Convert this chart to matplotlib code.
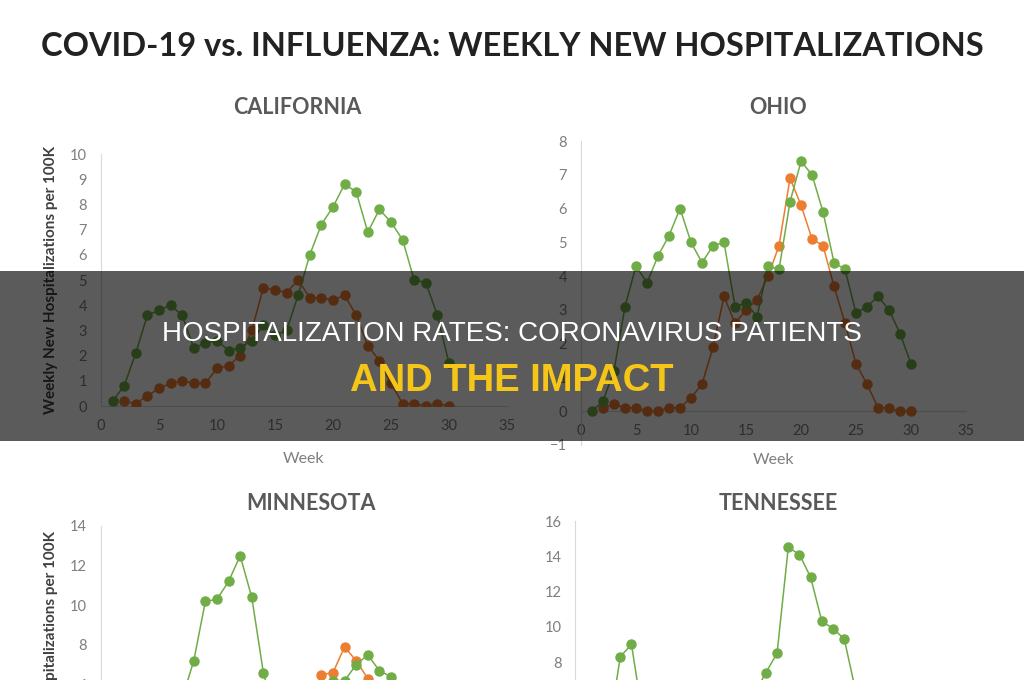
import matplotlib
matplotlib.use("Agg")
import matplotlib.pyplot as plt
from matplotlib.patches import Rectangle

# ---- data (weekly new hospitalizations per 100K) ----
ca_green_weeks = list(range(1, 31))
ca_green = [0.2, 0.8, 2.1, 3.6, 3.8, 4.0, 3.6, 2.3, 2.5, 2.6, 2.2, 2.3, 2.6, 3.2, 2.8,
            3.0, 4.4, 6.0, 7.2, 7.9, 8.8, 8.5, 6.9, 7.8, 7.3, 6.6, 5.0, 4.9, 3.6, 1.7]
ca_orange_weeks = list(range(2, 31))
ca_orange = [0.2, 0.1, 0.4, 0.7, 0.9, 1.0, 0.9, 0.9, 1.5, 1.6, 2.0, 3.0, 4.7, 4.6,
             4.5, 5.0, 4.3, 4.3, 4.2, 4.4, 3.6, 2.4, 1.8, 0.9, 0.1, 0.1, 0.0, 0.1, 0.0]

oh_green_weeks = list(range(1, 31))
oh_green = [0.0, 0.3, 1.2, 3.1, 4.3, 3.8, 4.6, 5.2, 6.0, 5.0, 4.4, 4.9, 5.0, 3.1, 3.2,
            2.8, 4.3, 4.2, 6.2, 7.4, 7.0, 5.9, 4.4, 4.2, 2.9, 3.1, 3.4, 3.0, 2.3, 1.4]
oh_orange_weeks = list(range(2, 31))
oh_orange = [0.1, 0.2, 0.1, 0.1, 0.0, 0.0, 0.1, 0.1, 0.4, 0.8, 1.9, 3.4, 2.6, 3.0,
             3.3, 4.0, 4.9, 6.9, 6.1, 5.1, 4.9, 3.7, 2.6, 1.4, 0.8, 0.1, 0.1, 0.0, 0.0]

mn_green_weeks = list(range(1, 31))
mn_green = [0.3, 0.6, 1.0, 1.6, 2.4, 3.6, 5.3, 7.2, 10.2, 10.3, 11.2, 12.5, 10.4, 6.6, 4.5,
            3.8, 4.0, 4.6, 5.5, 6.2, 6.2, 7.0, 7.5, 6.7, 6.4, 5.5, 4.2, 3.0, 2.0, 1.2]
mn_orange_weeks = list(range(2, 31))
mn_orange = [0.1, 0.1, 0.2, 0.2, 0.3, 0.4, 0.5, 0.7, 0.9, 1.2, 1.6, 2.2, 2.8, 3.4,
             4.0, 4.6, 5.0, 6.5, 6.6, 7.9, 7.2, 6.3, 5.5, 3.8, 2.2, 0.9, 0.3, 0.1, 0.0]

tn_green_weeks = list(range(1, 31))
tn_green = [0.4, 1.5, 4.2, 8.3, 9.0, 4.9, 4.1, 4.3, 4.0, 3.6, 3.3, 3.0, 3.2, 3.9, 4.8,
            6.2, 7.4, 8.5, 14.5, 14.1, 12.8, 10.3, 9.9, 9.3, 6.4, 5.1, 4.2, 3.0, 2.1, 1.2]
tn_orange_weeks = list(range(2, 31))
tn_orange = [0.1, 0.1, 0.1, 0.2, 0.2, 0.3, 0.4, 0.5, 0.8, 1.1, 1.5, 2.0, 2.6, 3.1,
             3.6, 4.2, 4.9, 5.4, 5.0, 4.4, 3.6, 2.8, 2.0, 1.3, 0.6, 0.2, 0.1, 0.0, 0.0]

x_ticks = [0, 5, 10, 15, 20, 25, 30, 35]

GREEN = "#70AD47"
ORANGE = "#ED7D31"
AXIS_GRAY = "#D9D9D9"
TEXT_GRAY = "#595959"

plt.rcParams["font.family"] = ["Lato", "DejaVu Sans"]

fig = plt.figure(figsize=(10.24, 6.8), dpi=100)
fig.patch.set_facecolor("white")

H = 680.0
W = 1024.0

# axes rect (figure fractions), y-limits, y-ticks, title position in pixels
panels = [
    ("CALIFORNIA", (0.0986, 0.4029, 0.3965, 0.3706), (0, 10), range(0, 11, 1), (297, 108),
     ca_green_weeks, ca_green, ca_orange_weeks, ca_orange, True),
    ("OHIO", (0.5674, 0.3456, 0.3760, 0.4470), (-1, 8), range(-1, 9, 1), (778, 108),
     oh_green_weeks, oh_green, oh_orange_weeks, oh_orange, False),
    ("MINNESOTA", (0.0986, -0.1816, 0.3965, 0.4081), (0, 14), range(0, 15, 2), (311, 503),
     mn_green_weeks, mn_green, mn_orange_weeks, mn_orange, True),
    ("TENNESSEE", (0.5620, -0.1809, 0.3828, 0.4147), (0, 16), range(0, 17, 2), (778, 503),
     tn_green_weeks, tn_green, tn_orange_weeks, tn_orange, False),
]

for title, rect, ylim, yticks, tpos, gw, gv, ow, ov, ylab in panels:
    ax = fig.add_axes(rect)
    ax.plot(ow, ov, color=ORANGE, marker="o", markersize=6.5, linewidth=1.1, zorder=3)
    ax.plot(gw, gv, color=GREEN, marker="o", markersize=6.5, linewidth=1.1, zorder=4)
    ax.set_xlim(0, 35)
    ax.set_ylim(*ylim)
    ax.set_xticks(x_ticks)
    ax.set_yticks(list(yticks))
    for s in ["top", "right"]:
        ax.spines[s].set_visible(False)
    ax.spines["left"].set_color(AXIS_GRAY)
    ax.spines["bottom"].set_color(AXIS_GRAY)
    ax.spines["bottom"].set_position(("data", 0))
    ax.tick_params(length=0, labelsize=10.5, labelcolor="#7F7F7F")
    ax.tick_params(axis="x", pad=9)
    ax.tick_params(axis="y", pad=10)
    ax.set_facecolor("none")
    fig.text(tpos[0] / W, 1 - tpos[1] / H, title, ha="center", va="center",
             fontsize=15.5, fontweight="bold", color=TEXT_GRAY)
    ax.set_xlabel("Week", fontsize=11.5, color="#7F7F7F", labelpad=14)
    if ylim[0] < 0:
        ax.xaxis.set_label_coords(0.5, -0.025)
    if ylab:
        ax.set_ylabel("Weekly New Hospitalizations per 100K", fontsize=11,
                      fontweight="bold", color="#404040")
        ax.yaxis.set_label_coords(-0.105, 0.5)

fig.text(0.5, 1 - 47 / H, "COVID-19 vs. INFLUENZA: WEEKLY NEW HOSPITALIZATIONS",
         ha="center", va="center", fontsize=23.5, fontweight="bold", color="#222222")

# dark banner across the middle
band = Rectangle((0, 1 - 441 / H), 1, 170 / H, transform=fig.transFigure,
                 facecolor="black", alpha=0.645, edgecolor="none", zorder=10)
fig.patches.append(band)

fig.text(0.5, 1 - 334 / H, "HOSPITALIZATION RATES: CORONAVIRUS PATIENTS",
         ha="center", va="center", fontsize=20, color="white",
         family=["Liberation Sans", "DejaVu Sans"], zorder=11)
fig.text(0.5, 1 - 381 / H, "AND THE IMPACT",
         ha="center", va="center", fontsize=27.5, fontweight="bold", color="#F5C518",
         family=["Liberation Sans", "DejaVu Sans"], zorder=11)

fig.savefig("out.png", dpi=100)
